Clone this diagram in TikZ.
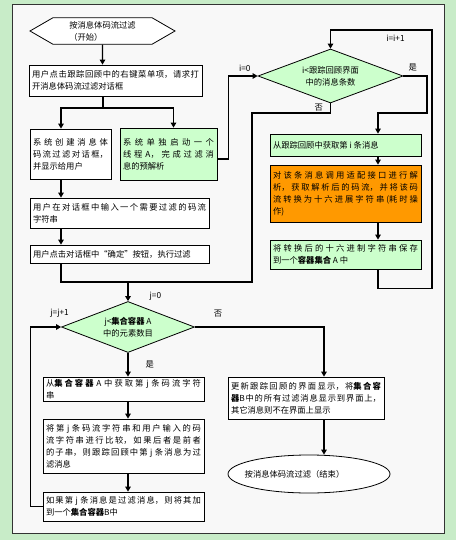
\documentclass[tikz,border=0pt]{standalone}
\usepackage{fontspec}
\setmainfont{Noto Sans CJK SC}
\usepackage{tikz}
\usetikzlibrary{positioning,arrows.meta,shapes.geometric,shapes.symbols}
\usepackage{xcolor}
\XeTeXlinebreaklocale "zh"
\XeTeXlinebreakskip=0pt plus 2pt
\tolerance=10000
\hbadness=10000

\definecolor{bggreen}{RGB}{200,236,200}
\definecolor{paper}{RGB}{248,248,248}
\definecolor{boxgreen}{RGB}{204,255,204}
\definecolor{parseorange}{RGB}{255,153,0}
\newcommand{\boxfont}{\fontsize{8.3}{12}\selectfont}
% wiersz wyrównany do pełnej szerokości
\newcommand{\jl}[1]{#1{\parfillskip=0pt\par}}

\begin{document}
\begin{tikzpicture}[
  x=1pt, y=-1pt,
  box/.style={
    draw, fill=white, line width=0.8pt,
    align=justify, inner xsep=3pt, inner ysep=2pt,
    font=\boxfont
  },
  greenbox/.style={box, fill=boxgreen},
  cond/.style={
    diamond, draw, fill=boxgreen, line width=0.8pt,
    inner sep=0pt, align=center, font=\boxfont
  },
  hexa/.style={
    signal, signal to=east and west, signal pointer angle=60,
    draw, fill=white, line width=0.8pt,
    minimum width=145pt, minimum height=26pt,
    align=left, font=\boxfont
  },
  terminal/.style={
    ellipse, draw, fill=white, line width=0.8pt,
    inner sep=0pt, font=\boxfont
  },
  line/.style={line width=1.4pt},
  arrow/.style={line, -{Triangle[length=5pt,width=5.5pt]}},
  lbl/.style={font=\boxfont, inner sep=1pt}
]

% --- tło ---
\fill[bggreen] (0,0) rectangle (456,540);
\draw[black!80, fill=paper, line width=0.8pt] (12,4) rectangle (444,533);

% --- lewa kolumna ---
\node[hexa] (start) at (102.5,31) {按消息体码流过滤\\（开始）};

\node[box, text width=167pt, minimum height=31pt] (open) at (115.5,80.5)
  {\jl{用户点击跟踪回顾中的右键菜单项，请求打}开消息体码流过滤对话框};

\node[box, text width=75pt, minimum height=50pt] (dialog) at (70.5,154)
  {\jl{系统创建消息体}\jl{码流过滤对话框，}并显示给用户};

\node[greenbox, text width=91pt, minimum height=52pt] (thread) at (168.5,154)
  {\jl{系统单独启动一个}\jl{线程~A，完成过滤消}息的预解析};

\node[box, text width=173pt, minimum height=30pt] (input) at (119.5,213)
  {\jl{用户在对话框中输入一个需要过滤的码流}字符串};

\node[box, text width=173pt, minimum height=18pt] (confirm) at (119.5,254)
  {用户点击对话框中“确定”按钮，执行过滤};

% --- prawa kolumna ---
\node[cond, aspect=2.685, minimum width=145pt, minimum height=54pt] (ichk) at (330.5,76)
  {i<跟踪回顾界面\\中的消息条数};

\node[greenbox, text width=145pt, minimum height=22pt] (geti) at (345.5,145)
  {从跟踪回顾中获取第~i~条消息};

\node[box, fill=parseorange, text width=145pt, minimum height=57pt] (parse) at (345.5,193.5)
  {\jl{对该条消息调用适配接口进行解}\jl{析，获取解析后的码流，并将该码}\jl{流转换为十六进展字符串(耗时操}作)};

\node[greenbox, text width=145pt, minimum height=29pt] (save) at (345.5,254.5)
  {\jl{将转换后的十六进制字符串保存}到一个\textbf{容器集合}~A~中};

% --- dolna część ---
\node[cond, aspect=2.61, minimum width=133pt, minimum height=51pt] (jchk) at (128,327)
  {j<\textbf{集合容器}~A\\中的元素数目};

\node[box, text width=155pt, minimum height=24pt] (getj) at (123.5,389)
  {\jl{从\textbf{集合容器}~A~中获取第~j~条码流字符}串};

\node[box, text width=155pt, minimum height=54pt] (cmp) at (123.5,446)
  {\jl{将第~j~条码流字符串和用户输入的码}\jl{流字符串进行比较，如果后者是前者}\jl{的子串，则跟踪回顾中第~j~条消息为过}滤消息};

\node[box, text width=155pt, minimum height=29pt] (addb) at (123.5,506.5)
  {\jl{如果第~j~条消息是过滤消息，则将其加}到一个\textbf{集合容器}B中};

\node[box, text width=150pt, minimum height=42pt] (upd) at (306,398)
  {\jl{更新跟踪回顾的界面显示，将\textbf{集合容}}\jl{\textbf{器}B中的所有过滤消息显示到界面上，}其它消息则不在界面上显示};

\node[terminal, minimum width=162pt, minimum height=38pt] (endn) at (309,474)
  {\hspace*{-29pt}按消息体码流过滤（结束）};

% --- strzałki: lewa kolumna ---
\coordinate (fork) at (103,108);
\coordinate (lspine) at (61,108);
\draw[arrow] (start) -- (start |- open.north);
\draw[line] (fork |- open.south) -- (fork);
\draw[arrow] (fork) -| (dialog.north -| lspine);
\draw[arrow] (fork) -| ([xshift=5pt]thread.north);
\draw[arrow] (dialog.south -| lspine) -- (input.north -| lspine);
\draw[arrow] (input.south -| lspine) -- (confirm.north -| lspine);
\coordinate (merge) at (128,282);
\draw[line] (confirm.south -| lspine) |- (merge);
\draw[arrow] (merge) -- node[lbl, pos=0.75, right=20pt] {j=0} (jchk.north);

% --- strzałki: prawa kolumna ---
\coordinate (rspine) at (378,0);
\coordinate (ybend) at (427,113);
\coordinate (iloop) at (432,30);
\coordinate (nobend) at (252,113);
\draw[arrow] ([yshift=-5pt]thread.east) -- ++(11,0)
  |- node[lbl, pos=0.78, above=3pt] {i=0} (ichk.west);
\draw[arrow] (ichk.east) -| node[lbl, pos=0.2, above=3pt] {是} (ybend)
  -| (geti.north -| rspine);
\draw[arrow] (geti.south -| rspine) -- (parse.north -| rspine);
\draw[arrow] (parse.south -| rspine) -- (save.north -| rspine);
\draw[arrow] (save.south -| rspine) -- ++(0,19) -| (iloop)
  -| node[lbl, pos=0.18, below=3pt] {i=i+1} (ichk.north);
\draw[line] (ichk.south) |- node[lbl, pos=0.2, left=6pt] {否} (nobend) |- (merge);

% --- strzałki: dolna część ---
\coordinate (bspine) at (324,0);
\draw[arrow] (jchk.east) -| node[lbl, pos=0.09, above=8pt] {否} (upd.north -| bspine);
\draw[arrow] (jchk.south) -- node[lbl, right=16pt] {是} (getj.north -| jchk);
\draw[arrow] (getj.south -| jchk) -- (cmp.north -| jchk);
\draw[arrow] (cmp.south -| jchk) -- (addb.north -| jchk);
\draw[arrow] (addb.west) -- ++(-12,0)
  |- node[lbl, pos=0.975, above=8pt] {j=j+1} (jchk.west);
\draw[arrow] (upd.south -| bspine) -- (endn.north -| bspine);

\end{tikzpicture}
\end{document}
